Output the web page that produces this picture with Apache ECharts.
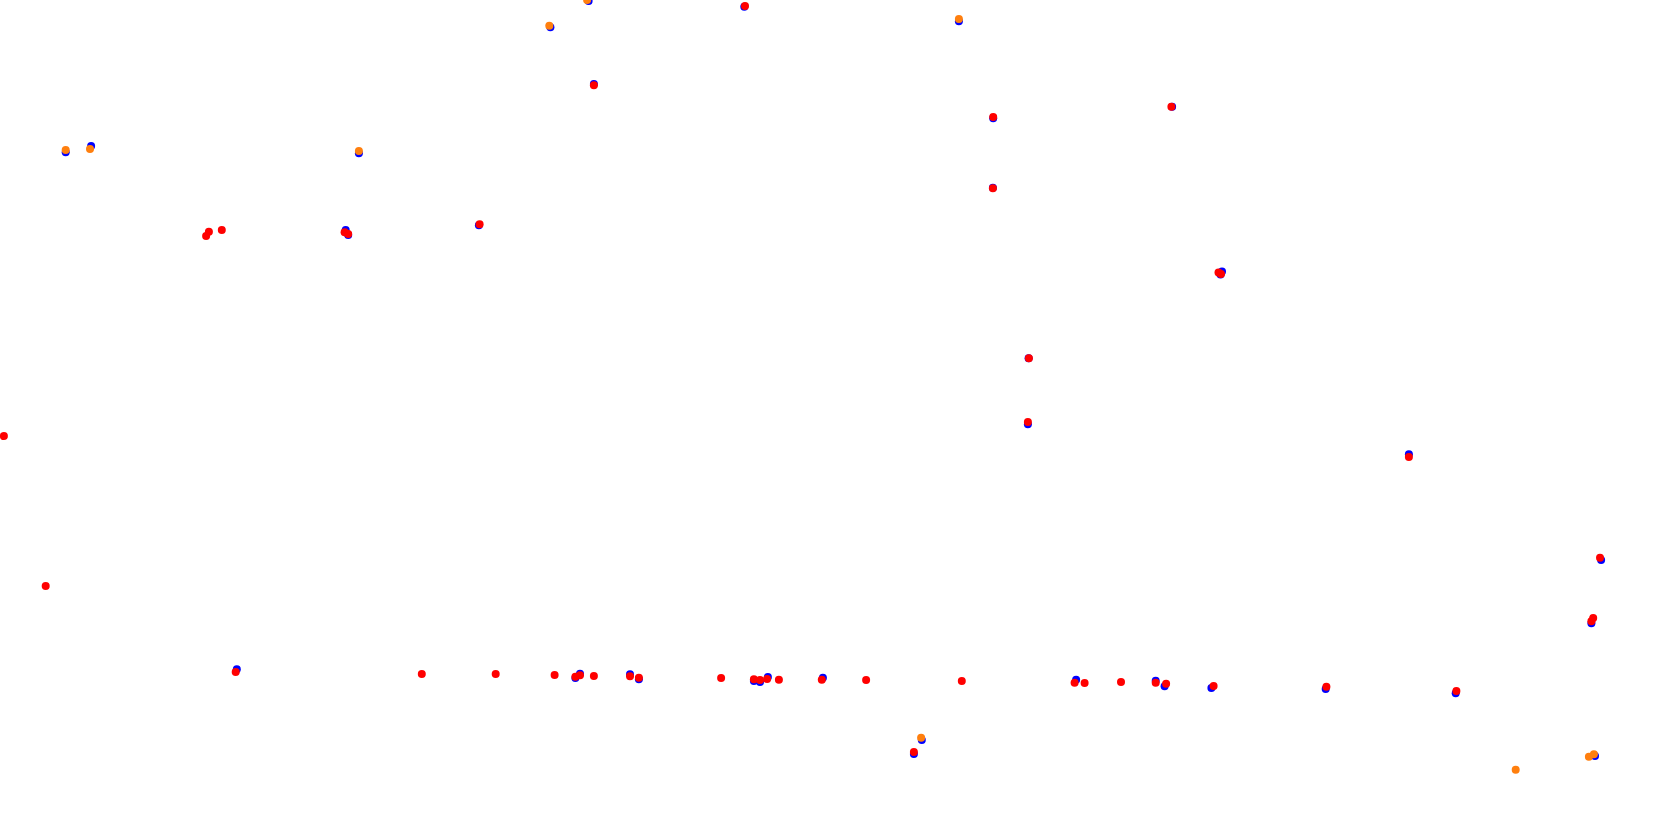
<!DOCTYPE html>
<html>
<head>
<meta charset="utf-8">
<script src="https://cdn.jsdelivr.net/npm/echarts@6/dist/echarts.min.js"></script>
<style>
html,body{margin:0;padding:0;background:#fff;}
#chart{width:1680px;height:827px;}
</style>
</head>
<body>
<div id="chart"></div>
<script>
// Series values: [x, y] (y grows downward)
const blueX = [65.7, 91.1, 358.9, 550.4, 588.6, 744.3, 958.9, 593.9, 993.2, 992.9, 345.7, 348.2, 478.9, 1172.1, 1222, 1220.5,
  1028.6, 1027.9, 1408.9, 236.8, 575.4, 580, 630, 638.9, 753.9, 760, 767.9, 822.9, 921.8, 913.9, 1076.1,
  1155.7, 1164.6, 1211.4, 1325.7, 1455.7, 1601.1, 1591.4, 1595];
const blueY = [152.3, 146, 153.3, 27.3, 1, 6.7, 21.3, 84, 118.3, 187.7, 230, 235, 225.3, 106.7, 271.5, 274.5,
  358.3, 424.3, 454.3, 669.3, 678, 673.7, 674.3, 679.3, 681, 682, 677, 677.7, 740, 754, 679.7,
  680.7, 686.3, 688, 689, 693.3, 560, 623.3, 756];

const orangeX = [65.7, 90, 358.9, 549.3, 587.1, 958.9, 921.1, 1515.7, 1588.9, 1593.9];
const orangeY = [150, 149, 151, 25.7, 0, 19, 737.7, 769.7, 756.7, 754.3];

const redX = [206.1, 208.9, 221.8, 344.6, 348.2, 479.6, 745, 593.9, 993.2, 992.9, 1171.4, 1218.5, 1221,
  3.9, 1028.9, 1027.9, 1408.9, 45.7, 235.7, 421.8, 495.7, 554.6, 575.4, 580, 593.9, 630, 638.9,
  721.1, 753.9, 760, 767.1, 778.9, 821.8, 866.1, 913.9, 961.8, 1074.6, 1084.6, 1121,
  1155.7, 1166.1, 1213.6, 1326.4, 1456.4, 1600, 1593.2, 1591.4];
const redY = [236, 231.7, 230, 232.3, 234, 224.3, 6, 85.3, 117, 188.3, 106.7, 272.5, 274,
  436, 358.3, 422, 457, 586, 672, 674, 674, 675, 676.7, 675.3, 676, 676.3, 677.7,
  678, 679.3, 680, 679, 679.7, 679.7, 680, 752, 681, 682.7, 683, 682,
  682.7, 683.7, 686, 686.7, 691, 557.7, 618, 621.3];

const xRange = [0, 1680];
const yRange = [0, 827];

function pairs(xs, ys) { return xs.map((x, i) => [x, ys[i]]); }

const chart = echarts.init(document.getElementById('chart'));
chart.setOption({
  animation: false,
  backgroundColor: '#ffffff',
  grid: { left: 0, right: 0, top: 0, bottom: 0, containLabel: false },
  xAxis: { type: 'value', min: xRange[0], max: xRange[1], show: false },
  yAxis: { type: 'value', min: yRange[0], max: yRange[1], inverse: true, show: false },
  series: [
    { type: 'scatter', name: 'blue', data: pairs(blueX, blueY), symbolSize: 8, clip: false,
      itemStyle: { color: '#0000ff', opacity: 1 } },
    { type: 'scatter', name: 'orange', data: pairs(orangeX, orangeY), symbolSize: 8, clip: false,
      itemStyle: { color: '#ff7f0e', opacity: 1 } },
    { type: 'scatter', name: 'red', data: pairs(redX, redY), symbolSize: 8, clip: false,
      itemStyle: { color: '#ff0000', opacity: 1 } }
  ]
});
</script>
</body>
</html>
